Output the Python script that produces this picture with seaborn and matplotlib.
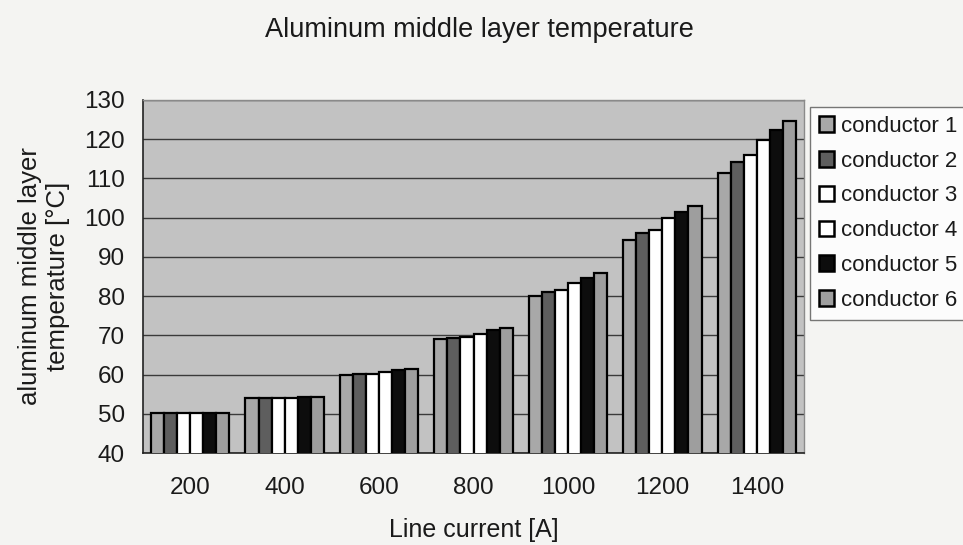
import numpy as np
import pandas as pd
import matplotlib
matplotlib.use("Agg")
import matplotlib.pyplot as plt
import seaborn as sns

currents = ["200", "400", "600", "800", "1000", "1200", "1400"]
conductor_1 = [50.3, 53.9, 60.0, 69.0, 80.1, 94.3, 111.5]
conductor_2 = [50.3, 53.9, 60.1, 69.4, 81.1, 96.0, 114.3]
conductor_3 = [50.3, 54.0, 60.2, 69.5, 81.6, 96.9, 116.0]
conductor_4 = [50.3, 54.0, 60.7, 70.4, 83.4, 99.9, 119.8]
conductor_5 = [50.3, 54.2, 61.1, 71.3, 84.6, 101.4, 122.4]
conductor_6 = [50.3, 54.4, 61.5, 71.8, 85.8, 103.0, 124.7]
series_names = ["conductor 1", "conductor 2", "conductor 3",
                "conductor 4", "conductor 5", "conductor 6"]
y_ticks = [40, 50, 60, 70, 80, 90, 100, 110, 120, 130]

series_values = [conductor_1, conductor_2, conductor_3,
                 conductor_4, conductor_5, conductor_6]
rows = []
for name, vals in zip(series_names, series_values):
    for c, v in zip(currents, vals):
        rows.append({"current": c, "conductor": name, "temp": v})
df = pd.DataFrame(rows)

sns.set_theme(style="white")
plt.rcParams["font.family"] = ["Liberation Sans", "DejaVu Sans"]

colors = ["#a8a8a8", "#5e5e5e", "#ffffff", "#ffffff", "#0d0d0d", "#9e9e9e"]

fig = plt.figure(figsize=(9.63, 5.45), dpi=100)
fig.patch.set_facecolor("#f4f4f2")
ax = fig.add_axes([143/963, 1-453/545, (804-143)/963, (453-100)/545])
ax.set_facecolor("#c2c2c2")

sns.barplot(data=df, x="current", y="temp", hue="conductor",
            order=currents, hue_order=series_names, palette=colors,
            width=0.83, gap=0, edgecolor="black", linewidth=1.6,
            saturation=1, ax=ax, zorder=3, err_kws={"linewidth": 0})

ax.set_ylim(40, 130)
ax.set_yticks(y_ticks)
ax.set_xlim(-0.5, len(currents) - 0.5)
ax.yaxis.grid(True, color="#3a3a3a", linewidth=1.0, zorder=1)
ax.set_axisbelow(True)

ax.set_xticks(np.arange(-0.5, len(currents), 1.0), minor=True)
ax.tick_params(axis="x", which="major", length=0, pad=17, labelsize=17.5)
ax.tick_params(axis="x", which="minor", length=7, width=1, color="black", direction="out")
ax.tick_params(axis="y", length=8, width=1, color="black", direction="out",
               labelsize=17.5, pad=5)
ax.tick_params(colors="#1a1a1a", which="both")

for s in ["left", "bottom"]:
    ax.spines[s].set_color("#222222")
    ax.spines[s].set_linewidth(1.2)
for s in ["top", "right"]:
    ax.spines[s].set_color("#8a8a8a")
    ax.spines[s].set_linewidth(1.0)

ax.set_xlabel("Line current [A]", fontsize=18, labelpad=14, color="#1a1a1a")
ax.set_ylabel("aluminum middle layer\ntemperature [°C]", fontsize=18.5,
              labelpad=10, color="#1a1a1a", linespacing=1.25)
fig.suptitle("Aluminum middle layer temperature", x=479/963, y=1-30/545,
             va="center", fontsize=19.5, color="#1a1a1a")

handles, labels = ax.get_legend_handles_labels()
if ax.legend_:
    ax.legend_.remove()
for h in handles:
    h.set_linewidth(1.8)
leg = fig.legend(handles, labels, loc="upper left",
                 bbox_to_anchor=(810/963, 1-107/545), frameon=True,
                 fancybox=False, edgecolor="#555555", facecolor="#ffffff",
                 fontsize=16, handlelength=0.7, handleheight=0.7,
                 handletextpad=0.3, labelspacing=0.62, borderpad=0.4,
                 borderaxespad=0)
leg.get_frame().set_linewidth(1.0)
for t in leg.get_texts():
    t.set_color("#1a1a1a")

fig.savefig("out.png", dpi=100, facecolor=fig.get_facecolor())
